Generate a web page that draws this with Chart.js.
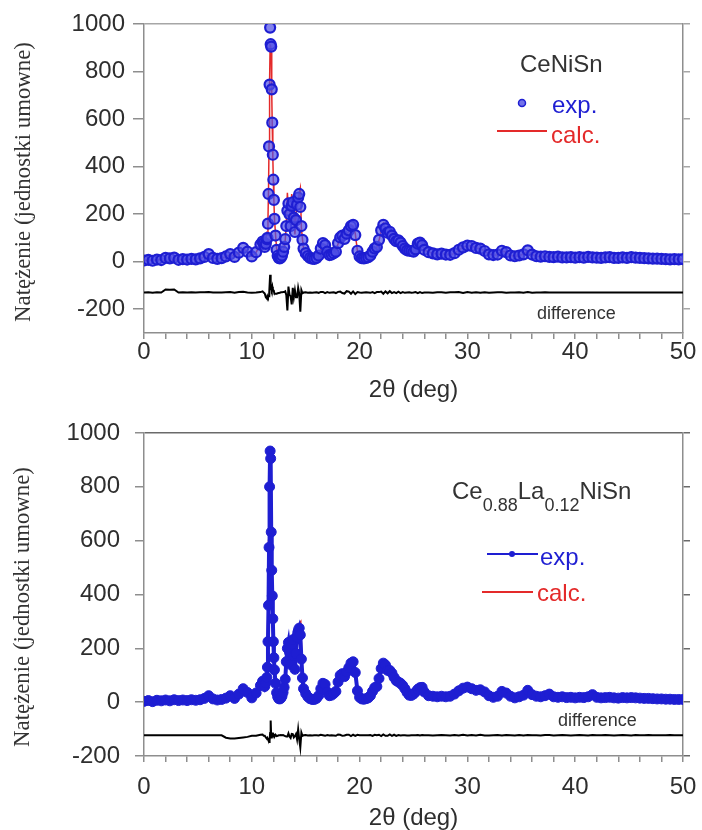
<!DOCTYPE html>
<html><head><meta charset="utf-8">
<script src="https://cdn.jsdelivr.net/npm/chart.js@4.4.1/dist/chart.umd.min.js"></script>
<style>
html,body{margin:0;padding:0;background:#fff;}
canvas{position:absolute;left:0;}
#c1{top:0;}
#c2{top:410px;}
</style></head><body>
<canvas id="c1" width="702" height="410"></canvas>
<canvas id="c2" width="702" height="420"></canvas>
<script>
// ---- data ----
const twoTheta = [0,0.4,0.8,1.2,1.6,2,2.4,2.8,3.2,3.6,4,4.4,4.8,5.2,5.6,6,6.4,6.8,7.2,7.6,8,8.4,8.8,9.2,9.6,10,10.4,10.8,
11,11.1,11.2,11.3,11.4,
11.45,11.5,11.55,11.6,11.65,11.7,11.75,11.8,11.85,11.9,11.95,12,12.05,12.1,
12.2,12.3,12.4,12.5,12.6,12.7,12.8,12.9,13,
13.1,13.2,13.3,13.4,13.5,13.6,13.7,13.8,13.9,14,14.1,14.2,14.3,14.4,14.5,14.6,14.7,14.8,
15,15.2,15.4,15.6,15.8,16,16.2,16.4,16.6,16.8,17,17.2,17.4,17.6,17.8,18,18.2,18.4,18.6,18.8,19,19.2,19.4,19.6,19.8,20,20.2,20.4,20.6,20.8,21,21.2,21.4,21.6,21.8,22,22.2,22.4,22.6,22.8,23,23.2,23.4,23.6,23.8,24,24.2,24.4,24.6,24.8,25,25.2,25.4,25.6,25.8,26,
26.4,26.8,27.2,27.6,28,28.4,28.8,29.2,29.6,30,30.4,30.8,31.2,31.6,32,32.4,32.8,33.2,33.6,34,34.4,34.8,35.2,35.6,36,36.4,36.8,37.2,37.6,38,38.4,38.8,39.2,39.6,40,40.4,40.8,41.2,41.6,42,42.4,42.8,43.2,43.6,44,44.4,44.8,45.2,45.6,46,46.4,46.8,47.2,47.6,48,48.4,48.8,49.2,49.6,50];

const expTop = [
5,8,4,9,7,16,14,17,8,11,9,12,10,14,20,32,16,12,15,22,32,20,38,58,42,22,40,72,
85,78,62,75,95,
100,160,285,485,745,985,915,905,725,585,450,345,260,180,
110,50,25,16,14,18,26,42,62,
95,150,215,245,200,150,235,250,185,125,175,240,270,285,230,150,92,55,
36,24,16,13,12,16,26,55,78,70,42,28,30,36,42,78,102,110,96,118,132,150,155,112,46,22,15,14,16,19,26,42,56,62,92,132,155,140,122,126,110,96,86,90,80,66,55,48,46,45,42,52,76,80,70,50,
40,35,31,34,30,29,36,50,60,68,66,58,55,45,31,28,30,46,40,26,23,26,31,48,30,23,21,23,20,19,21,18,18,19,17,19,17,20,18,17,16,18,19,16,16,18,16,19,17,16,15,14,13,13,12,11,10,11,10,11];

const calcTop = [
5,7,5,8,7,3,2,4,8,10,9,11,10,13,19,30,16,12,15,21,30,21,36,55,42,23,40,70,
80,78,66,95,120,
115,180,300,500,760,910,905,880,710,560,440,335,255,185,
115,55,28,18,15,17,25,40,60,
90,160,290,220,210,165,285,230,205,115,195,260,250,290,310,140,95,55,
35,25,16,14,12,15,27,52,75,72,40,29,30,35,44,75,98,112,100,112,128,155,150,118,44,22,16,14,15,19,27,40,58,60,90,128,160,135,125,120,112,94,88,86,82,64,56,48,45,46,42,50,78,78,72,50,
40,36,30,33,31,28,35,48,62,66,67,57,56,44,32,28,29,45,41,26,23,25,32,46,31,23,21,22,20,19,21,18,18,19,17,19,17,20,18,17,16,18,19,16,16,18,16,19,17,16,15,14,13,13,12,11,10,11,10,11];

const expBottom = [
3,6,2,7,5,8,5,9,6,8,6,9,7,9,14,24,12,8,10,15,24,14,30,50,36,16,34,62,
78,70,58,72,92,
130,225,360,575,800,933,905,632,490,395,310,225,165,120,
70,35,20,13,12,15,22,36,55,
85,150,200,222,185,140,215,232,172,122,180,240,262,275,250,160,90,50,
32,20,13,10,10,14,24,50,70,66,38,24,26,32,40,75,100,106,95,112,128,145,150,110,42,18,12,11,13,16,24,40,54,58,88,125,145,138,118,118,108,92,80,75,70,62,50,36,26,25,30,38,48,54,55,38,
24,22,20,22,20,22,30,42,52,56,50,44,46,38,24,18,22,40,34,22,16,20,26,44,28,22,20,24,30,20,18,20,17,18,16,18,17,20,28,18,16,17,18,16,15,17,16,17,16,15,14,14,13,12,12,11,11,10,10,10];

const calcBottom = [
3,6,2,7,5,8,5,9,6,8,6,9,7,9,14,24,12,8,10,24,36,26,40,58,42,18,36,60,
75,72,60,80,105,
140,240,380,600,820,925,850,640,480,400,300,230,160,125,
68,38,22,13,12,14,22,35,56,
88,155,205,215,190,150,210,228,180,125,175,255,240,290,295,150,92,50,
31,21,13,11,10,14,25,48,70,68,37,25,26,33,42,72,98,108,96,110,126,148,148,112,40,18,12,11,13,16,23,42,52,58,86,128,142,140,120,115,110,90,82,74,71,62,50,37,27,25,30,38,47,55,54,38,
24,23,20,21,20,23,29,43,50,57,49,45,44,39,25,18,21,41,33,22,17,19,27,43,28,22,21,23,29,21,18,19,17,19,16,17,17,21,27,18,16,16,18,17,15,16,16,18,15,15,14,13,13,12,12,11,10,10,10,10];

const diffBaseTop = -130;      // level of the difference curve (top panel)
const diffBaseBottom = -123;   // level of the difference curve (bottom panel)

const xTickLabels = [0,10,20,30,40,50];
const yTicksTop = [-200,0,200,400,600,800,1000];
const yTicksBottom = [-200,0,200,400,600,800,1000];
const yTitleText = 'Natężenie (jednostki umowne)';
const xTitleText = '2θ (deg)';
const seriesNames = ['exp.','calc.','difference'];

// ---- styling ----
const GRAY = '#8e8e8e', TXT = '#2e2e2e', BLUE = '#1e1ed2', RED = '#e42a2a';
const SANS = "'Liberation Sans', Arial, sans-serif";
Chart.defaults.font.family = SANS;

function pts(ys){ return twoTheta.map((t,i)=>({x:t, y:ys[i]})); }
function diffPts(e,c,base){ return twoTheta.map((t,i)=>({x:t, y:base + e[i] - c[i]})); }

function drawYTitle(ctx, cx, cy){
  ctx.save();
  ctx.font = '20px "Liberation Serif"';
  const w = ctx.measureText(yTitleText).width;
  const size = 20 * 280 / w;
  ctx.font = size.toFixed(2) + 'px "Liberation Serif"';
  ctx.translate(cx, cy);
  ctx.rotate(-Math.PI/2);
  ctx.textAlign = 'center';
  ctx.textBaseline = 'middle';
  ctx.fillStyle = '#333';
  ctx.fillText(yTitleText, 0, 0);
  ctx.restore();
}

function makeChart(id, o){
  return new Chart(document.getElementById(id), {
    type: 'line',
    data: { datasets: [
      { label: seriesNames[0], data: pts(o.exp), showLine: o.expLine, borderColor: BLUE,
        borderWidth: o.expLine ? 4 : 0, pointRadius: o.pointRadius, pointBorderWidth: o.pointBorder,
        pointBorderColor: BLUE, pointBackgroundColor: o.pointFill },
      { label: seriesNames[1], data: pts(o.calc), borderColor: RED, borderWidth: o.calcWidth, pointRadius: 0 },
      { label: seriesNames[2], data: diffPts(o.exp, o.calc, o.diffBase), borderColor: '#000', borderWidth: 2, pointRadius: 0 }
    ]},
    options: {
      responsive: false, animation: false, devicePixelRatio: 1,
      layout: { padding: { top: o.padTop, left: 0, right: 0, bottom: 0 } },
      plugins: { legend: { display: false }, tooltip: { enabled: false } },
      scales: {
        x: { type: 'linear', position: 'bottom', min: 0, max: 50,
          afterFit: s => { s.height = o.xHeight; s.paddingLeft = 0; s.paddingRight = 0; },
          ticks: { stepSize: 2, autoSkip: false, maxRotation: 0, color: TXT,
            font: { size: 24, lineHeight: 1 }, padding: o.xPad,
            callback: v => xTickLabels.includes(v) ? String(v) : '' },
          grid: { drawOnChartArea: false, tickLength: 6, tickColor: GRAY, lineWidth: 1.5 },
          border: { color: GRAY, width: 1.5 },
          title: { display: true, text: xTitleText, color: TXT, font: { size: 24, lineHeight: 1 },
            padding: { top: 0, bottom: o.xTitlePad } }
        },
        y: { type: 'linear', position: 'left', min: o.yMin, max: 1000,
          afterFit: s => { s.width = 144; s.paddingTop = 0; s.paddingBottom = 0; },
          afterBuildTicks: s => { s.ticks = o.yTicks.map(v => ({ value: v })); },
          ticks: { color: TXT, font: { size: 24, lineHeight: 1 }, padding: o.yPad, callback: v => String(v) },
          grid: { color: c => (c.tick && c.tick.value === 1000) ? o.topLine : 'rgba(0,0,0,0)',
            tickColor: GRAY, tickLength: o.yTick, lineWidth: 1.5 },
          border: { color: GRAY, width: 1.5 }
        },
        y2: { type: 'linear', position: 'right', min: o.yMin, max: 1000,
          afterFit: s => { s.width = 19; },
          afterBuildTicks: s => { s.ticks = o.yTicks.map(v => ({ value: v })); },
          ticks: { display: false },
          grid: { drawOnChartArea: false, tickColor: o.topLine, tickLength: 7, lineWidth: 1.5 },
          border: { color: GRAY, width: 1.5 }
        }
      }
    },
    plugins: [{ id: 'decor', afterDraw(chart){ const ctx = chart.ctx; ctx.save(); o.decor(ctx); ctx.restore(); } }]
  });
}

makeChart('c1', {
  exp: expTop, calc: calcTop, diffBase: diffBaseTop, yMin: -300, yTicks: yTicksTop,
  expLine: false, pointRadius: 5, pointBorder: 2.2, pointFill: 'rgba(80,80,230,0.7)', calcWidth: 1.5,
  padTop: 24, xHeight: 77, xPad: 1, xTitlePad: 8, yPad: 8, yTick: 11, topLine: '#a6a6a6',
  decor(ctx){
    drawYTitle(ctx, 24, 182);
    ctx.textBaseline = 'alphabetic'; ctx.textAlign = 'left';
    ctx.font = '24px ' + SANS; ctx.fillStyle = '#333';
    ctx.fillText('CeNiSn', 520, 72);
    ctx.beginPath(); ctx.arc(522, 103, 3.5, 0, Math.PI*2);
    ctx.fillStyle = 'rgba(80,80,230,0.8)'; ctx.fill();
    ctx.lineWidth = 1.5; ctx.strokeStyle = BLUE; ctx.stroke();
    ctx.fillStyle = BLUE; ctx.fillText(seriesNames[0], 552, 113);
    ctx.beginPath(); ctx.moveTo(497, 131); ctx.lineTo(547, 131);
    ctx.lineWidth = 2; ctx.strokeStyle = RED; ctx.stroke();
    ctx.fillStyle = RED; ctx.fillText(seriesNames[1], 551, 143);
    ctx.font = '18px ' + SANS; ctx.fillStyle = '#333';
    ctx.fillText(seriesNames[2], 537, 319);
  }
});

makeChart('c2', {
  exp: expBottom, calc: calcBottom, diffBase: diffBaseBottom, yMin: -200, yTicks: yTicksBottom,
  expLine: true, pointRadius: 5, pointBorder: 1, pointFill: BLUE, calcWidth: 2.5,
  padTop: 23, xHeight: 74, xPad: 13, xTitlePad: 0, yPad: 15, yTick: 9, topLine: '#6a6a6a',
  decor(ctx){
    drawYTitle(ctx, 23, 197);
    ctx.textBaseline = 'alphabetic'; ctx.textAlign = 'left'; ctx.fillStyle = '#333';
    const parts = [['Ce',24,89],['0.88',18,101],['La',24,89],['0.12',18,101],['NiSn',24,89]];
    let x = 452;
    for (const [t, s, b] of parts){ ctx.font = s + 'px ' + SANS; ctx.fillText(t, x, b); x += ctx.measureText(t).width; }
    ctx.beginPath(); ctx.moveTo(487, 144); ctx.lineTo(538, 144);
    ctx.lineWidth = 2; ctx.strokeStyle = BLUE; ctx.stroke();
    ctx.beginPath(); ctx.arc(512, 144, 3, 0, Math.PI*2); ctx.fillStyle = BLUE; ctx.fill();
    ctx.font = '24px ' + SANS;
    ctx.fillText(seriesNames[0], 540, 155);
    ctx.beginPath(); ctx.moveTo(482, 182); ctx.lineTo(533, 182);
    ctx.lineWidth = 2; ctx.strokeStyle = RED; ctx.stroke();
    ctx.fillStyle = RED; ctx.fillText(seriesNames[1], 537, 191);
    ctx.font = '18px ' + SANS; ctx.fillStyle = '#333';
    ctx.fillText(seriesNames[2], 558, 316);
  }
});
</script>
</body></html>
